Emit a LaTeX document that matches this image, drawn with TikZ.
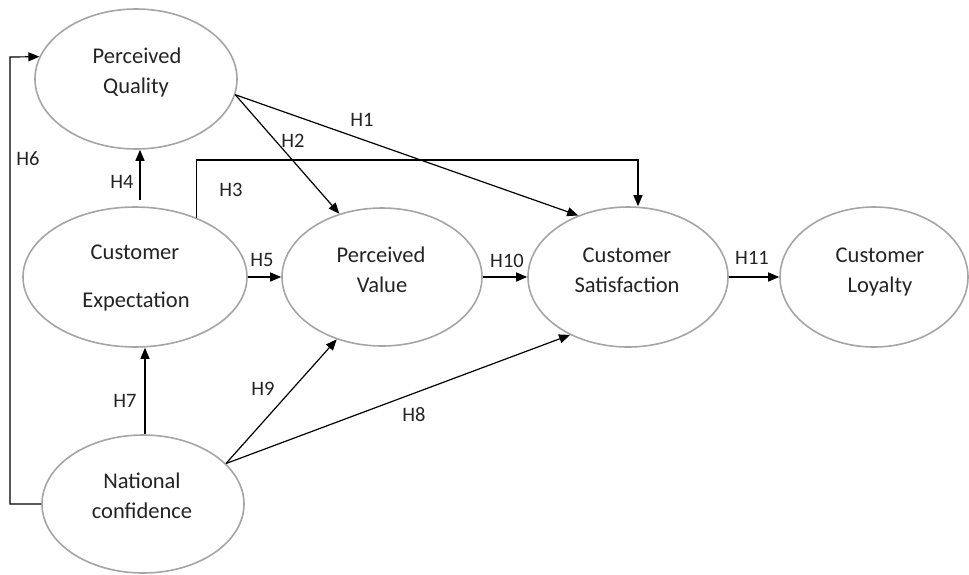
\documentclass[tikz,border=0pt]{standalone}
\usepackage{fontspec}
\setmainfont{Carlito}
\usetikzlibrary{arrows.meta,shapes.geometric}
\definecolor{rim}{RGB}{165,165,165}
\definecolor{ink}{RGB}{35,35,35}
\tikzset{
  blob/.style={ellipse, draw=rim, line width=1.6pt, inner sep=0pt},
  word/.style={anchor=base, inner sep=0pt, text=ink, font=\fontsize{22.5}{27}\selectfont},
  hyp/.style={inner sep=0pt, text=ink, font=\fontsize{20.5}{24}\selectfont},
  link/.style={draw=black, line width=1.2pt, -{Triangle[length=11pt,width=9pt]}},
}
\begin{document}
\begin{tikzpicture}[x=1pt,y=-1pt]
\useasboundingbox (0,0) rectangle (969,574);

% constructs
\node[blob, minimum width=202pt, minimum height=140pt] (pq) at (136,79) {};
\node[blob, minimum width=224pt, minimum height=140pt] (ce) at (135,277) {};
\node[blob, minimum width=202pt, minimum height=138pt] (nc) at (143,504) {};
\node[blob, minimum width=200pt, minimum height=138pt] (pv) at (382,277) {};
\node[blob, minimum width=200pt, minimum height=140pt] (cs) at (628,277) {};
\node[blob, minimum width=188pt, minimum height=140pt] (cl) at (874,277) {};

% construct names
\node[word] (pq1) at (137,63) {Perceived};
\node[word] (pq2) at (136,93) {Quality};
\node[word] (ce1) at (135,259) {Customer};
\node[word] (ce2) at (136,307) {Expectation};
\node[word] (nc1) at (142,488) {National};
\node[word] (nc2) at (142,518) {confidence};
\node[word] (pv1) at (381,262) {Perceived};
\node[word] (pv2) at (382,292) {Value};
\node[word] (cs1) at (627,262) {Customer};
\node[word] (cs2) at (627,292) {Satisfaction};
\node[word] (cl1) at (880,262) {Customer};
\node[word] (cl2) at (880,292) {Loyalty};

% hypothesised paths
\coordinate (h3) at (195,160);
\coordinate (h6) at (10,57);
\draw[link] (pq.-9) -- (cs.129.6);
\draw[link] (pq.-9) -- (pv.124.7);
\draw[link] (ce.44.5) -- (ce.44.5 |- h3) -| ([xshift=10pt]cs.north);
\draw[link] ([xshift=5pt,yshift=6pt]ce.north) -- ([xshift=5pt]ce.north |- pq.south);
\draw[link] (ce.east) -- (pv.west);
\draw[link] (nc.west) -| (h6) -- (pq.167);
\draw[link] ([xshift=2pt]nc.north) -- ([xshift=2pt]nc.north |- ce.south);
\draw[link] (nc.26) -- (cs.225);
\draw[link] (nc.26) -- (pv.234);
\draw[link] (pv.east) -- (cs.west);
\draw[link] (cs.east) -- (cl.west);

% path labels
\node[hyp] (l1) at (362,120) {H1};
\node[hyp] (l2) at (293,141) {H2};
\node[hyp] (l3) at (231,190) {H3};
\node[hyp] (l4) at (122,182) {H4};
\node[hyp] (l5) at (262,260) {H5};
\node[hyp] (l6) at (28,159) {H6};
\node[hyp] (l7) at (125,401) {H7};
\node[hyp] (l8) at (414,415) {H8};
\node[hyp] (l9) at (263,389) {H9};
\node[hyp] (l10) at (507,261) {H10};
\node[hyp] (l11) at (752,258) {H11};
\end{tikzpicture}
\end{document}
